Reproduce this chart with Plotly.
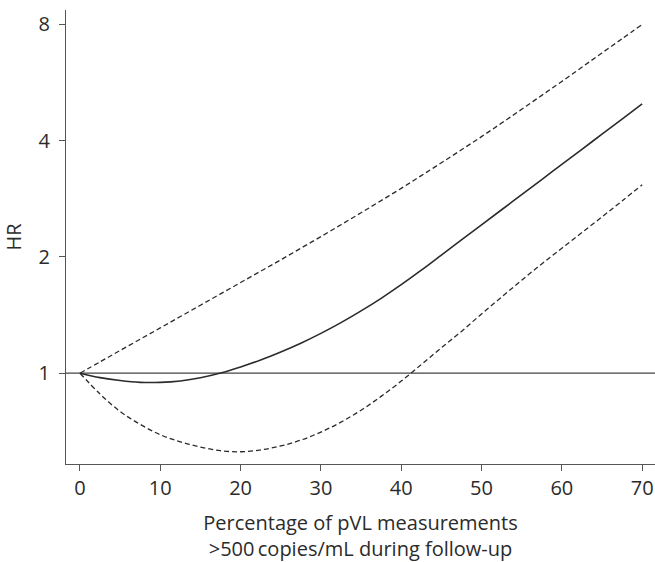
import plotly.graph_objects as go

pct = [0, 2.5, 5, 7.5, 10, 12.5, 15, 17.5, 20, 22.5, 25, 27.5, 30, 32.5, 35,
       37.5, 40, 42.5, 45, 47.5, 50, 52.5, 55, 57.5, 60, 62.5, 65, 67.5, 70]
hr = [1.000, 0.974, 0.957, 0.947, 0.947, 0.955, 0.973, 1.001, 1.038, 1.082, 1.135,
      1.196, 1.268, 1.352, 1.450, 1.563, 1.695, 1.848, 2.022, 2.213, 2.422, 2.650,
      2.900, 3.173, 3.473, 3.800, 4.158, 4.550, 4.979]
hr_upper = [1.000, 1.070, 1.145, 1.225, 1.310, 1.402, 1.500, 1.605, 1.717, 1.837, 1.966,
            2.107, 2.258, 2.424, 2.603, 2.799, 3.011, 3.249, 3.506, 3.789, 4.098, 4.444,
            4.823, 5.242, 5.696, 6.199, 6.751, 7.346, 8.000]
hr_lower = [1.000, 0.883, 0.796, 0.737, 0.693, 0.664, 0.644, 0.630, 0.626, 0.633, 0.648,
            0.671, 0.704, 0.747, 0.802, 0.871, 0.954, 1.053, 1.164, 1.283, 1.424, 1.575,
            1.741, 1.919, 2.107, 2.313, 2.540, 2.793, 3.074]

y_ticks = [1, 2, 4, 8]
x_ticks = [0, 10, 20, 30, 40, 50, 60, 70]

ink = "#2b2b2b"
axis_col = "#555555"
font_family = "Open Sans, Lato, sans-serif"

fig = go.Figure()
fig.add_trace(go.Scatter(x=pct, y=hr_upper, mode="lines",
                         line=dict(color=ink, width=1.3, dash="5px,3px", shape="spline", smoothing=1.0),
                         showlegend=False))
fig.add_trace(go.Scatter(x=pct, y=hr_lower, mode="lines",
                         line=dict(color=ink, width=1.3, dash="5px,3px", shape="spline", smoothing=1.0),
                         showlegend=False))
fig.add_trace(go.Scatter(x=pct, y=hr, mode="lines",
                         line=dict(color=ink, width=1.6, shape="spline", smoothing=1.0),
                         showlegend=False))

fig.add_shape(type="line", xref="paper", yref="y", x0=0, x1=1, y0=1, y1=1,
              line=dict(color="#444444", width=1.2), layer="below")

fig.update_layout(
    width=655, height=562,
    margin=dict(l=66, r=0, t=10, b=98),
    paper_bgcolor="white", plot_bgcolor="white",
    font=dict(family=font_family, size=20, color=ink),
    xaxis=dict(range=[-1.74, 71.6], tickvals=x_ticks, ticktext=[str(v) for v in x_ticks],
               automargin=False,
               showgrid=False, zeroline=False, showline=True, linecolor=axis_col, linewidth=1.3,
               ticks="outside", ticklen=6, tickwidth=1.2, tickcolor=axis_col,
               tickfont=dict(size=20, color=ink),
               title=dict(text="Percentage of pVL measurements<br>>500\u2009copies/mL during follow-up",
                          font=dict(size=20, color=ink), standoff=16)),
    yaxis=dict(type="log", range=[-0.2351, 0.9405], tickvals=y_ticks, ticktext=[str(v) for v in y_ticks],
               automargin=False,
               showgrid=False, zeroline=False, showline=True, linecolor=axis_col, linewidth=1.3,
               ticks="outside", ticklen=6, tickwidth=1.2, tickcolor=axis_col,
               ticklabelstandoff=5,
               tickfont=dict(size=20, color=ink),
               title=dict(text="HR", font=dict(size=20, color=ink), standoff=12)),
)

fig.write_html("out.html",
               config={"displayModeBar": False},
               post_script="document.body.style.margin='0';document.body.style.overflow='hidden';")
